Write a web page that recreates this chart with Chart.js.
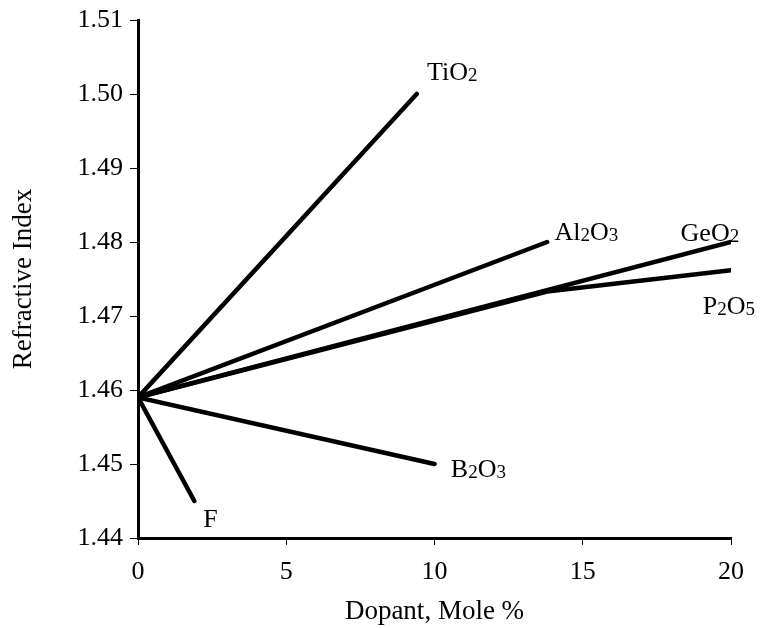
<!DOCTYPE html>
<html>
<head>
<meta charset="utf-8">
<script src="https://cdn.jsdelivr.net/npm/chart.js@4/dist/chart.umd.min.js"></script>
<style>
    html, body { margin: 0; padding: 0; background: #fff; }
    #wrap { width: 760px; height: 628px; }
</style>
</head>
<body>
<div id="wrap"><canvas id="chart" width="760" height="628"></canvas></div>
<script>
// Refractive index of silica vs dopant concentration

// Dopants and their curves (x = mole %, y = refractive index)
const dopants = ['TiO2', 'Al2O3', 'GeO2', 'P2O5', 'B2O3', 'F'];
const xTiO2 = [0, 9.4];
const yTiO2 = [1.459, 1.500];
const xAl2O3 = [0, 13.8];
const yAl2O3 = [1.459, 1.480];
const xGeO2 = [0, 20];
const yGeO2 = [1.459, 1.480];
const xP2O5 = [0, 13.8, 20];
const yP2O5 = [1.459, 1.4733, 1.4762];
const xB2O3 = [0, 10];
const yB2O3 = [1.459, 1.450];
const xF = [0, 1.9];
const yF = [1.459, 1.445];

// Where each dopant name sits (data units)
const labelX = [9.75, 14.05, 18.3, 19.05, 10.55, 2.2];
const labelY = [1.5031, 1.4815, 1.4814, 1.4715, 1.4494, 1.4427];

// Axis ticks
const xTicks = [0, 5, 10, 15, 20];
const yTicks = [1.44, 1.45, 1.46, 1.47, 1.48, 1.49, 1.50, 1.51];

const curves = [
    [xTiO2, yTiO2], [xAl2O3, yAl2O3], [xGeO2, yGeO2],
    [xP2O5, yP2O5], [xB2O3, yB2O3], [xF, yF]
];

const FONT = '"Liberation Serif", "Times New Roman", serif';

const datasets = curves.map((c, i) => ({
    label: dopants[i],
    data: c[0].map((x, j) => ({ x: x, y: c[1][j] })),
    showLine: true,
    borderColor: '#000',
    borderWidth: 4.5,
    borderCapStyle: 'round',
    pointRadius: 0,
    tension: 0
}));

// Draws "Al2O3" style names with the digits as small subscripts
const dopantLabels = {
    id: 'dopantLabels',
    afterDatasetsDraw(chart) {
        const ctx = chart.ctx;
        const xs = chart.scales.x, ys = chart.scales.y;
        ctx.save();
        ctx.fillStyle = '#000';
        ctx.textBaseline = 'alphabetic';
        dopants.forEach((name, i) => {
            let px = xs.getPixelForValue(labelX[i]);
            const py = ys.getPixelForValue(labelY[i]) + 9;
            name.split(/(\d)/).filter(s => s).forEach(part => {
                const sub = /\d/.test(part);
                ctx.font = (sub ? '19px ' : '26px ') + FONT;
                ctx.fillText(part, px, py + (sub ? 1 : 0));
                px += ctx.measureText(part).width;
            });
        });
        ctx.restore();
    }
};

new Chart(document.getElementById('chart'), {
    type: 'scatter',
    data: { datasets: datasets },
    options: {
        responsive: false,
        animation: false,
        layout: { padding: { left: 8, right: 29, top: 18, bottom: 0 } },
        plugins: {
            legend: { display: false },
            tooltip: { enabled: false }
        },
        scales: {
            x: {
                type: 'linear',
                min: 0,
                max: 20,
                afterBuildTicks: s => { s.ticks = xTicks.map(v => ({ value: v })); },
                afterFit: s => { s.height = 90; },
                border: { display: true, color: '#000', width: 3 },
                grid: { drawOnChartArea: false, drawTicks: true, tickLength: 7, color: '#000', lineWidth: 1 },
                ticks: { color: '#000', padding: 14, font: { family: FONT, size: 26, lineHeight: 1 } },
                title: {
                    display: true,
                    text: 'Dopant, Mole %',
                    color: '#000',
                    font: { family: FONT, size: 27 },
                    padding: { top: 4, bottom: 0 }
                }
            },
            y: {
                type: 'linear',
                min: 1.44,
                max: 1.51,
                afterBuildTicks: s => { s.ticks = yTicks.map(v => ({ value: v })); },
                afterFit: s => { s.width = 130; },
                border: { display: true, color: '#000', width: 3 },
                grid: { drawOnChartArea: false, drawTicks: true, tickLength: 8, color: '#000', lineWidth: 1 },
                ticks: {
                    color: '#000',
                    padding: 7,
                    font: { family: FONT, size: 26, lineHeight: 1 },
                    callback: v => v.toFixed(2)
                },
                title: {
                    display: true,
                    text: 'Refractive Index',
                    color: '#000',
                    font: { family: FONT, size: 27 },
                    padding: { top: 0, bottom: 0 }
                }
            }
        }
    },
    plugins: [dopantLabels]
});
</script>
</body>
</html>
